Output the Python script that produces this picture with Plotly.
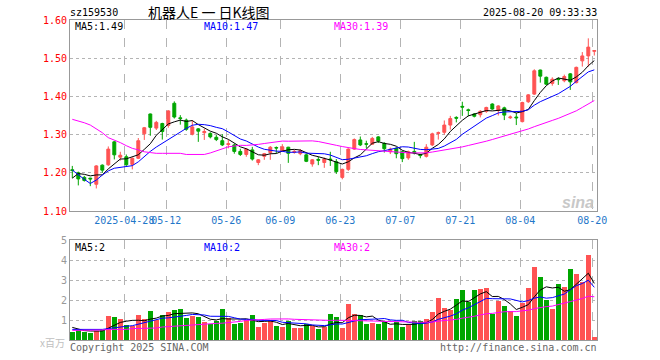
import plotly.graph_objects as go
import pandas as pd
import numpy as np

# ---------------- data ----------------
opens = [1.208, 1.200, 1.188, 1.186, 1.170, 1.220, 1.221, 1.281, 1.241, 1.242,
         1.222, 1.238, 1.302, 1.354, 1.317, 1.329, 1.324, 1.382, 1.344, 1.338,
         1.301, 1.315, 1.305, 1.303, 1.293, 1.284, 1.274, 1.273, 1.256, 1.248,
         1.260, 1.227, 1.243, 1.253, 1.266, 1.258, 1.267, 1.254, 1.250, 1.247,
         1.223, 1.235, 1.227, 1.236, 1.229, 1.188, 1.209, 1.262, 1.286, 1.276,
         1.275, 1.294, 1.277, 1.255, 1.264, 1.255, 1.239, 1.256, 1.248, 1.243,
         1.273, 1.303, 1.306, 1.325, 1.345, 1.374, 1.365, 1.354, 1.352, 1.361,
         1.380, 1.363, 1.370, 1.344, 1.346, 1.334, 1.386, 1.406, 1.469, 1.450,
         1.434, 1.446, 1.441, 1.459, 1.436, 1.493, 1.506, 1.518]
highs = [1.218, 1.203, 1.192, 1.187, 1.220, 1.222, 1.269, 1.283, 1.255, 1.248,
         1.240, 1.291, 1.320, 1.355, 1.336, 1.331, 1.364, 1.387, 1.351, 1.342,
         1.337, 1.317, 1.315, 1.306, 1.299, 1.301, 1.286, 1.276, 1.263, 1.264,
         1.268, 1.236, 1.252, 1.270, 1.269, 1.275, 1.268, 1.260, 1.262, 1.250,
         1.236, 1.242, 1.240, 1.255, 1.236, 1.211, 1.264, 1.290, 1.295, 1.284,
         1.294, 1.296, 1.280, 1.266, 1.267, 1.258, 1.258, 1.281, 1.250, 1.275,
         1.305, 1.308, 1.337, 1.349, 1.348, 1.386, 1.368, 1.356, 1.364, 1.373,
         1.382, 1.377, 1.373, 1.350, 1.357, 1.386, 1.406, 1.471, 1.470, 1.452,
         1.450, 1.450, 1.457, 1.461, 1.478, 1.516, 1.552, 1.521]
lows = [1.186, 1.167, 1.177, 1.165, 1.159, 1.200, 1.218, 1.235, 1.232, 1.218,
        1.209, 1.236, 1.286, 1.297, 1.312, 1.287, 1.318, 1.342, 1.326, 1.310,
        1.298, 1.281, 1.286, 1.290, 1.283, 1.270, 1.264, 1.250, 1.244, 1.242,
        1.232, 1.220, 1.234, 1.234, 1.251, 1.256, 1.226, 1.250, 1.246, 1.228,
        1.216, 1.220, 1.213, 1.218, 1.197, 1.183, 1.205, 1.260, 1.270, 1.265,
        1.273, 1.278, 1.253, 1.249, 1.238, 1.228, 1.234, 1.248, 1.238, 1.240,
        1.270, 1.287, 1.300, 1.313, 1.332, 1.349, 1.348, 1.345, 1.345, 1.357,
        1.365, 1.350, 1.338, 1.341, 1.325, 1.332, 1.383, 1.404, 1.436, 1.430,
        1.428, 1.430, 1.437, 1.417, 1.434, 1.478, 1.478, 1.507]
closes = [1.206, 1.184, 1.180, 1.184, 1.218, 1.207, 1.262, 1.247, 1.246, 1.221,
          1.238, 1.284, 1.318, 1.319, 1.332, 1.308, 1.362, 1.346, 1.342, 1.314,
          1.320, 1.309, 1.308, 1.294, 1.287, 1.273, 1.276, 1.256, 1.248, 1.262,
          1.236, 1.234, 1.250, 1.267, 1.265, 1.268, 1.251, 1.256, 1.258, 1.230,
          1.234, 1.233, 1.236, 1.234, 1.203, 1.209, 1.262, 1.287, 1.273, 1.275,
          1.290, 1.283, 1.263, 1.262, 1.250, 1.237, 1.255, 1.252, 1.245, 1.267,
          1.302, 1.305, 1.325, 1.342, 1.343, 1.372, 1.363, 1.348, 1.361, 1.371,
          1.367, 1.375, 1.351, 1.346, 1.344, 1.384, 1.404, 1.467, 1.453, 1.432,
          1.445, 1.444, 1.452, 1.438, 1.476, 1.506, 1.529, 1.520]
volumes = [0.42, 0.50, 0.42, 0.37, 0.45, 0.50, 1.22, 1.17, 1.05, 0.75,
           0.72, 1.25, 1.05, 1.45, 1.00, 1.25, 1.38, 1.50, 1.55, 1.12,
           1.22, 1.17, 0.88, 0.80, 0.95, 1.55, 1.08, 0.80, 0.87, 1.00,
           1.25, 0.67, 0.87, 0.95, 0.70, 0.67, 0.95, 0.62, 0.62, 0.78,
           0.70, 0.55, 0.67, 1.30, 1.17, 0.62, 1.80, 1.30, 1.25, 0.80,
           0.83, 0.80, 0.88, 0.62, 0.92, 0.67, 0.75, 0.95, 0.95, 1.05,
           1.42, 2.12, 1.62, 1.50, 2.05, 2.50, 1.92, 2.50, 2.55, 2.62,
           1.28, 1.95, 1.72, 1.45, 1.22, 1.83, 2.62, 3.67, 3.17, 2.00,
           1.55, 2.80, 2.67, 3.55, 3.30, 2.92, 4.25, 0.13]

# moving-average values before the window is full (history is off-chart)
ma5_head = [1.186, 1.198, 1.196, 1.192]
ma10_head = [1.207, 1.194, 1.183, 1.172, 1.181, 1.194, 1.205, 1.212, 1.214]
ma30_head = [1.340, 1.336, 1.331, 1.325, 1.316, 1.305, 1.292, 1.286, 1.279, 1.271,
             1.264, 1.260, 1.255, 1.253, 1.251, 1.251, 1.251, 1.251, 1.251, 1.248,
             1.248, 1.248, 1.248, 1.252, 1.258, 1.264, 1.268, 1.270, 1.272]
vma5_head = [0.63, 0.55, 0.47, 0.45]
vma10_head = [0.53, 0.53, 0.52, 0.52, 0.53, 0.53, 0.57, 0.62, 0.65]
vma30_head = [0.48, 0.48, 0.48, 0.48, 0.48, 0.50, 0.53, 0.53, 0.53, 0.53,
              0.57, 0.57, 0.57, 0.58, 0.60, 0.65, 0.67, 0.72, 0.74, 0.76,
              0.78, 0.79, 0.80, 0.82, 0.83, 0.84, 0.86, 0.90, 0.93]

tick_index = [9, 16, 26, 35, 45, 55, 65, 75, 87]
tick_labels = ["2025-04-28", "05-12", "05-26", "06-09", "06-23", "07-07", "07-21", "08-04", "08-20"]
price_ticks = [1.10, 1.20, 1.30, 1.40, 1.50, 1.60]
vol_ticks = [1, 2, 3, 4, 5]
price_ma_labels = ["MA5:1.49", "MA10:1.47", "MA30:1.39"]
vol_ma_labels = ["MA5:2", "MA10:2", "MA30:2"]
code_label = "sz159530"
title_label = "机器人E 一 日K线图"
time_label = "2025-08-20 09:33:33"

# ---------------- derived ----------------
RED = "#ff5353"
GREEN = "#00a600"
MA_COLORS = ["#000000", "#0000ff", "#ff00ff"]
x = np.arange(len(closes))


def moving(values, n, head):
    s = pd.Series(values, dtype=float).rolling(n).mean().to_numpy()
    s[:n - 1] = head
    return s


ma_price = [moving(closes, 5, ma5_head), moving(closes, 10, ma10_head), moving(closes, 30, ma30_head)]
ma_vol = [moving(volumes, 5, vma5_head), moving(volumes, 10, vma10_head), moving(volumes, 30, vma30_head)]
bar_colors = [RED if c >= o else GREEN for o, c in zip(opens, closes)]

fig = go.Figure()
fig.add_trace(go.Candlestick(
    x=x, open=opens, high=highs, low=lows, close=closes,
    increasing=dict(line=dict(color=RED, width=1), fillcolor=RED),
    decreasing=dict(line=dict(color=GREEN, width=1), fillcolor=GREEN),
    whiskerwidth=0, xaxis="x", yaxis="y", hoverinfo="skip"))
for m, c in zip(ma_price, MA_COLORS):
    fig.add_trace(go.Scatter(x=x, y=m, mode="lines", line=dict(color=c, width=1),
                             xaxis="x", yaxis="y", hoverinfo="skip"))
fig.add_trace(go.Bar(x=x, y=volumes, marker=dict(color=bar_colors, line=dict(width=0)),
                     width=0.8, xaxis="x2", yaxis="y2", hoverinfo="skip"))
for m, c in zip(ma_vol, MA_COLORS):
    fig.add_trace(go.Scatter(x=x, y=m, mode="lines", line=dict(color=c, width=1),
                             xaxis="x2", yaxis="y2", hoverinfo="skip"))

W, H = 660, 360
L, R, T, B = 70, 63, 20, 20
PW, PH = W - L - R, H - T - B


def px(xp):
    return (xp - L) / PW


def py(yp):
    return (H - B - yp) / PH


MONO = "DejaVu Sans Mono"
grid_vals = [i - 0.33 for i in tick_index]
xr = [-0.383, 87.45]

common_x = dict(range=xr, tickmode="array", tickvals=grid_vals, showgrid=True,
                gridcolor="#b4b4b4", griddash="dash", gridwidth=1, zeroline=False,
                showline=True, mirror=True, linecolor="#999999", linewidth=1, ticks="",
                tickangle=0, fixedrange=True)

fig.update_layout(
    width=W, height=H, margin=dict(l=L, r=R, t=T, b=B, autoexpand=False),
    paper_bgcolor="white", plot_bgcolor="white", showlegend=False, hovermode=False,
    bargap=0,
    xaxis=dict(domain=[0, 1], anchor="y", ticktext=tick_labels,
               tickfont=dict(family=MONO, size=10, color="#1f77c9"),
               rangeslider=dict(visible=False), **common_x),
    xaxis2=dict(domain=[0, 1], anchor="y2", matches="x", showticklabels=False, **common_x),
    yaxis=dict(domain=[py(211), 1], range=[1.10, 1.60], tickmode="array", tickvals=price_ticks,
               ticktext=["%.2f" % v for v in price_ticks],
               tickfont=dict(family=MONO, size=10, color="#ff0000"),
               showgrid=True, gridcolor="#b4b4b4", griddash="dot", zeroline=False,
               showline=True, mirror=True, linecolor="#999999", ticks="", fixedrange=True),
    yaxis2=dict(domain=[0, py(240)], range=[0, 5], tickmode="array", tickvals=vol_ticks,
                ticktext=[str(v) for v in vol_ticks],
                tickfont=dict(family=MONO, size=10, color="#999999"),
                showgrid=True, gridcolor="#b4b4b4", griddash="dot", zeroline=False,
                showline=True, mirror=True, linecolor="#999999", ticks="", fixedrange=True),
)


def text(s, xp, yp, anchor="left", color="#000", size=10, family=MONO, **kw):
    fig.add_annotation(text=s, x=px(xp), y=py(yp), xref="paper", yref="paper",
                       xanchor=anchor, yanchor="middle", showarrow=False,
                       font=dict(family=family, size=size, color=color), borderpad=0, **kw)


text(code_label, 69, 13)
text(title_label, 209, 12, anchor="center", size=14, family="Noto Sans CJK SC")
text(time_label, 598, 12, anchor="right")
for lbl, xp, c in zip(price_ma_labels, [74, 203, 333], MA_COLORS):
    text(lbl, xp, 27, color=c)
for lbl, xp, c in zip(vol_ma_labels, [74, 203, 333], MA_COLORS):
    text(lbl, xp, 247, color=c)
text("x百万", 66, 342, anchor="right", color="#c0c0c0", size=10, family="Noto Sans CJK SC")
text("Copyright 2025 SINA.COM", 69, 347, color="#666666")
text("http://finance.sina.com.cn", 598, 347, anchor="right", color="#666666")
text("<b><i>sina</i></b>", 578, 202, anchor="center", color="#c8c8c8", size=16, family="Liberation Sans")

fig.write_html("out.html", config={"displayModeBar": False},
               post_script="document.body.style.margin='0';document.body.style.overflow='hidden';")
